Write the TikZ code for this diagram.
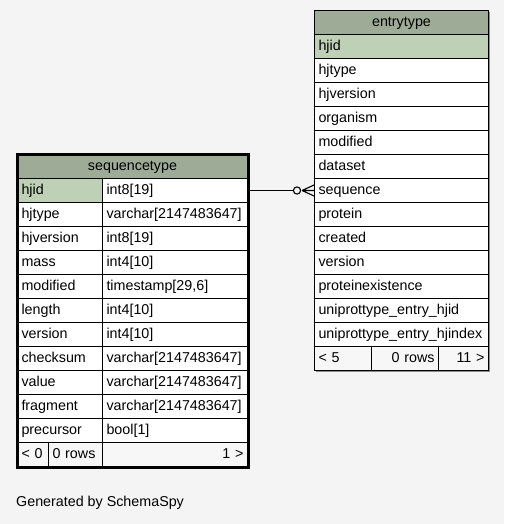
\documentclass[tikz,border=0pt]{standalone}
\usepackage{fontspec}
\setmainfont{Liberation Sans}
\usetikzlibrary{arrows.meta}
\definecolor{bg}{HTML}{F4F4F4}
\definecolor{hdr}{HTML}{9DAB97}
\definecolor{pk}{HTML}{BED0B6}
\definecolor{ftr}{HTML}{F7F7F7}
\tikzset{
  txt/.style={font=\fontsize{14.3}{15}\selectfont},
  cell/.style={txt, draw=black, line width=1pt, fill=white, anchor=north west, minimum height=24pt, inner ysep=0pt, inner xsep=4pt, text height=10.5pt, text depth=3pt},
  lcell/.style={cell, text width=#1-8pt, align=left},
  rcell/.style={cell, text width=#1-8pt, align=right},
  ccell/.style={cell, text width=#1-8pt, align=center},
  rel/.style={line width=1.1pt},
}
\begin{document}
\begin{tikzpicture}[x=1pt,y=-1pt]
\fill[bg] (0,0) rectangle (504,524);
\useasboundingbox (0,0) rectangle (504,524);

% ---------- entrytype ----------
\fill[black!45] (316,12) rectangle (490,372);
\node[ccell=174pt, fill=hdr] (e-h) at (314,10) {entrytype};
\node[lcell=174pt, fill=pk] (e-hjid) at (314,34) {hjid};
\node[lcell=174pt] (e-hjtype) at (314,58) {hjtype};
\node[lcell=174pt] (e-hjversion) at (314,82) {hjversion};
\node[lcell=174pt] (e-organism) at (314,106) {organism};
\node[lcell=174pt] (e-modified) at (314,130) {modified};
\node[lcell=174pt] (e-dataset) at (314,154) {dataset};
\node[lcell=174pt] (e-sequence) at (314,178) {sequence};
\node[lcell=174pt] (e-protein) at (314,202) {protein};
\node[lcell=174pt] (e-created) at (314,226) {created};
\node[lcell=174pt] (e-version) at (314,250) {version};
\node[lcell=174pt] (e-pe) at (314,274) {proteinexistence};
\node[lcell=174pt] (e-uh) at (314,298) {uniprottype\_entry\_hjid};
\node[lcell=174pt] (e-ui) at (314,322) {uniprottype\_entry\_hjindex};
\node[lcell=57pt, fill=ftr] (e-f1) at (314,346) {< 5};
\node[rcell=67pt, fill=ftr] (e-f2) at (371,346) {0 rows};
\node[rcell=50pt, fill=ftr] (e-f3) at (438,346) {11 >};

% ---------- sequencetype ----------
\node[ccell=230pt, fill=hdr] (s-h) at (17,154) {sequencetype};
\foreach \n/\t/\y [count=\i] in {
  hjid/{int8[19]}/178, hjtype/{varchar[2147483647]}/202, hjversion/{int8[19]}/226,
  mass/{int4[10]}/250, modified/{timestamp[29,6]}/274, length/{int4[10]}/298,
  version/{int4[10]}/322, checksum/{varchar[2147483647]}/346, value/{varchar[2147483647]}/370,
  fragment/{varchar[2147483647]}/394, precursor/{bool[1]}/418}{
  \ifnum\i=1
    \node[lcell=85pt, fill=pk] (s-n\i) at (17,\y) {\n};
  \else
    \node[lcell=85pt] (s-n\i) at (17,\y) {\n};
  \fi
  \node[lcell=145pt] (s-t\i) at (102,\y) {\t};
}
\node[lcell=31pt, fill=ftr] (s-f1) at (17,442) {< 0};
\node[lcell=54pt, fill=ftr] (s-f2) at (48,442) {0 rows};
\node[rcell=145pt, fill=ftr] (s-f3) at (102,442) {1 >};
\draw[line width=3pt] (s-h.north west) rectangle (s-f3.south east);

% ---------- relationship ----------
\draw[rel] (s-t1.east) -- ([xshift=-21pt]e-sequence.west);
\draw[rel] ([xshift=-17pt]e-sequence.west) circle (3.6pt);
\draw[rel] ([xshift=-12pt]e-sequence.west) -- ([yshift=-5.5pt]e-sequence.west)
  ([xshift=-12pt]e-sequence.west) -- ([yshift=5.5pt]e-sequence.west)
  ([xshift=-12pt]e-sequence.west) -- (e-sequence.west);

\node[txt, anchor=west, inner xsep=0pt] (gen) at (16,503) {Generated by SchemaSpy};
\end{tikzpicture}
\end{document}
